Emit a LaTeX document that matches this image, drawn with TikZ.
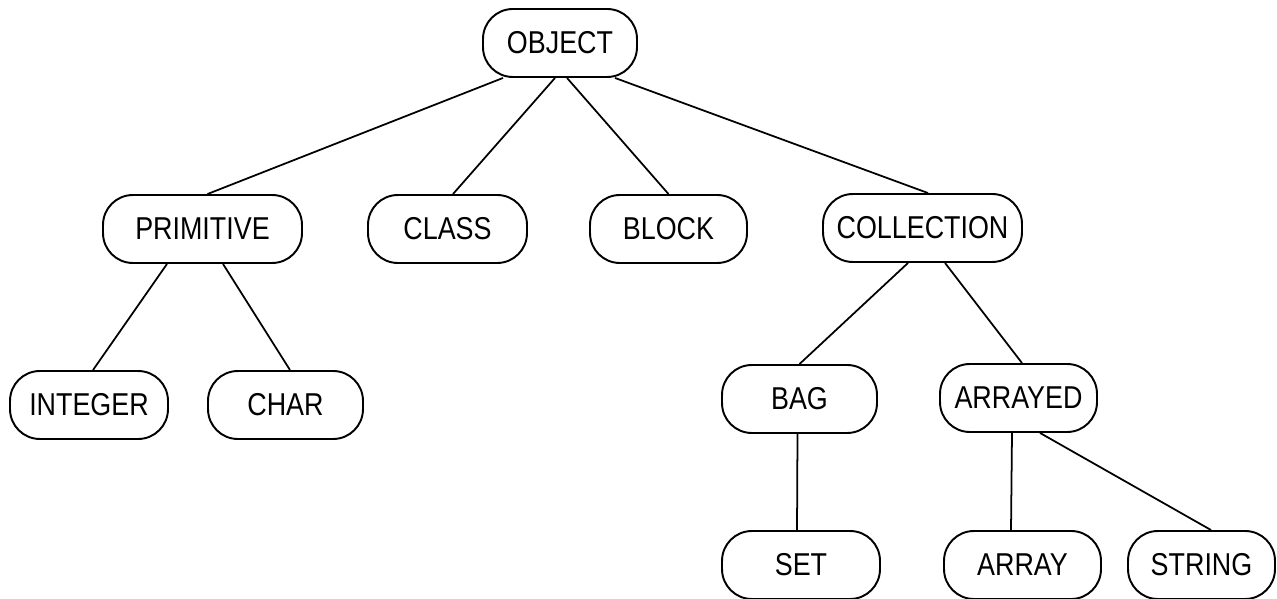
\documentclass[tikz,border=0pt]{standalone}
\usepackage{fontspec}
\setmainfont[FakeStretch=0.85]{Liberation Sans}
\usepackage{tikz}
\usetikzlibrary{calc}

\begin{document}
\begin{tikzpicture}[x=0.02cm, y=0.02cm,
    font=\fontsize{18}{21}\selectfont,
    cls/.style={draw, line width=1.1pt, rounded corners=17pt, inner sep=0pt, minimum height=1.36cm},
    link/.style={line width=1pt}]
    \useasboundingbox (0,0) rectangle (1277,598);

    % Root
    \node[cls, minimum width=3.08cm] (object) at (560, 555) {OBJECT};

    % Second level
    \node[cls, minimum width=3.98cm] (primitive) at (202.5, 369) {PRIMITIVE};
    \node[cls, minimum width=3.18cm] (class) at (447.5, 369) {CLASS};
    \node[cls, minimum width=3.14cm] (block) at (668.5, 369) {BLOCK};
    \node[cls, minimum width=3.98cm] (collection) at (922.5, 370) {COLLECTION};

    % Third level
    \node[cls, minimum width=3.16cm] (integer) at (89, 193) {INTEGER};
    \node[cls, minimum width=3.10cm] (char) at (285.5, 193) {CHAR};
    \node[cls, minimum width=3.10cm] (bag) at (799.5, 199) {BAG};
    \node[cls, minimum width=3.14cm] (arrayed) at (1018.5, 200) {ARRAYED};

    % Leaves
    \node[cls, minimum width=3.16cm] (set) at (801, 33) {SET};
    \node[cls, minimum width=3.14cm] (array) at (1022.5, 33) {ARRAY};
    \node[cls, minimum width=2.94cm] (string) at (1201.5, 33) {STRING};

    % Links
    \draw[link] ($(object.south)+(-57,0)$) -- ($(primitive.north)+(5,0)$);
    \draw[link] ($(object.south)+(-5,0)$) -- ($(class.north)+(5.5,0)$);
    \draw[link] ($(object.south)+(7,0)$) -- (block.north);
    \draw[link] ($(object.south)+(55,0)$) -- ($(collection.north)+(5.5,0)$);
    \draw[link] ($(primitive.south)+(-35.5,0)$) -- ($(integer.north)+(4,0)$);
    \draw[link] ($(primitive.south)+(20.5,0)$) -- ($(char.north)+(4.5,0)$);
    \draw[link] ($(collection.south)+(-14.5,0)$) -- (bag.north);
    \draw[link] ($(collection.south)+(22.5,0)$) -- ($(arrayed.north)+(3.5,0)$);
    \draw[link] ($(bag.south)+(-2,0)$) -- ($(set.north)+(-4,0)$);
    \draw[link] ($(arrayed.south)+(-6.5,0)$) -- ($(array.north)+(-11.5,0)$);
    \draw[link] ($(arrayed.south)+(21.5,0)$) -- ($(string.north)+(9.5,0)$);
\end{tikzpicture}
\end{document}
